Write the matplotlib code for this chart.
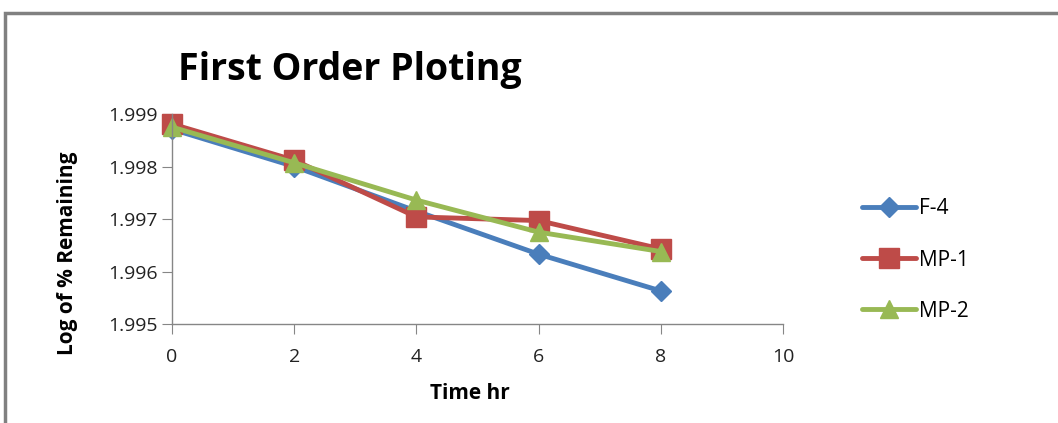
import matplotlib
matplotlib.use("Agg")
import matplotlib.pyplot as plt
from matplotlib.patches import Rectangle

time_hr = [0, 2, 4, 6, 8]
f4 = [1.99871, 1.99800, 1.99715, 1.99633, 1.99563]
mp1 = [1.99881, 1.99812, 1.99704, 1.99697, 1.99643]
mp2 = [1.99875, 1.99807, 1.99736, 1.99675, 1.99638]
series_names = ["F-4", "MP-1", "MP-2"]
x_ticks = [0, 2, 4, 6, 8, 10]
y_ticks = [1.995, 1.996, 1.997, 1.998, 1.999]

plt.rcParams['font.family'] = ['Open Sans', 'DejaVu Sans']

fig = plt.figure(figsize=(10.58, 4.23), dpi=100)
fig.patches.append(Rectangle((5/1058, -0.1), 1.2, 1 - 13/423 + 0.1, transform=fig.transFigure,
                             fill=False, edgecolor='#808080', linewidth=2.5))

ax = fig.add_axes([172/1058, 1 - 324/423, (783 - 172)/1058, (324 - 114)/423])
colors = ['#4A7EBB', '#BE4B48', '#98B954']
markers = ['D', 's', '^']
msizes = [10, 14, 13]
for vals, name, c, m, ms in zip([f4, mp1, mp2], series_names, colors, markers, msizes):
    ax.plot(time_hr, vals, color=c, marker=m, markersize=ms, linewidth=3.5,
            label=name, clip_on=False, solid_capstyle='round')

ax.set_xlim(0, 10)
ax.set_ylim(1.995, 1.999)
ax.set_xticks(x_ticks)
ax.set_yticks(y_ticks)
ax.set_yticklabels([f"{v:.3f}" for v in y_ticks])
for s in ['top', 'right']:
    ax.spines[s].set_visible(False)
for s in ['left', 'bottom']:
    ax.spines[s].set_color('#868686')
    ax.spines[s].set_linewidth(1)
ax.tick_params(axis='both', direction='out', length=7, color='#868686',
               labelsize=14, labelcolor='#222222')
ax.tick_params(axis='y', pad=3)
ax.tick_params(axis='x', pad=10)

ax.set_xlabel("Time hr", fontsize=15, fontweight='bold')
ax.xaxis.set_label_coords((470 - 172) / 611, -(383 - 324) / 210)
ax.set_ylabel("Log of % Remaining", fontsize=15, fontweight='bold')
ax.yaxis.set_label_coords((78 - 172) / 611, (324 - 253) / 210)

fig.text(350/1058, 1 - 80/423, "First Order Ploting", fontsize=27, fontweight='bold',
         ha='center', va='baseline')

ax.legend(loc='center left', bbox_to_anchor=(843/1058, 1 - 260/423),
          bbox_transform=fig.transFigure, frameon=False, fontsize=15,
          labelspacing=1.45, handlelength=2.6, handletextpad=0.15)

fig.savefig("out.png", dpi=100)
